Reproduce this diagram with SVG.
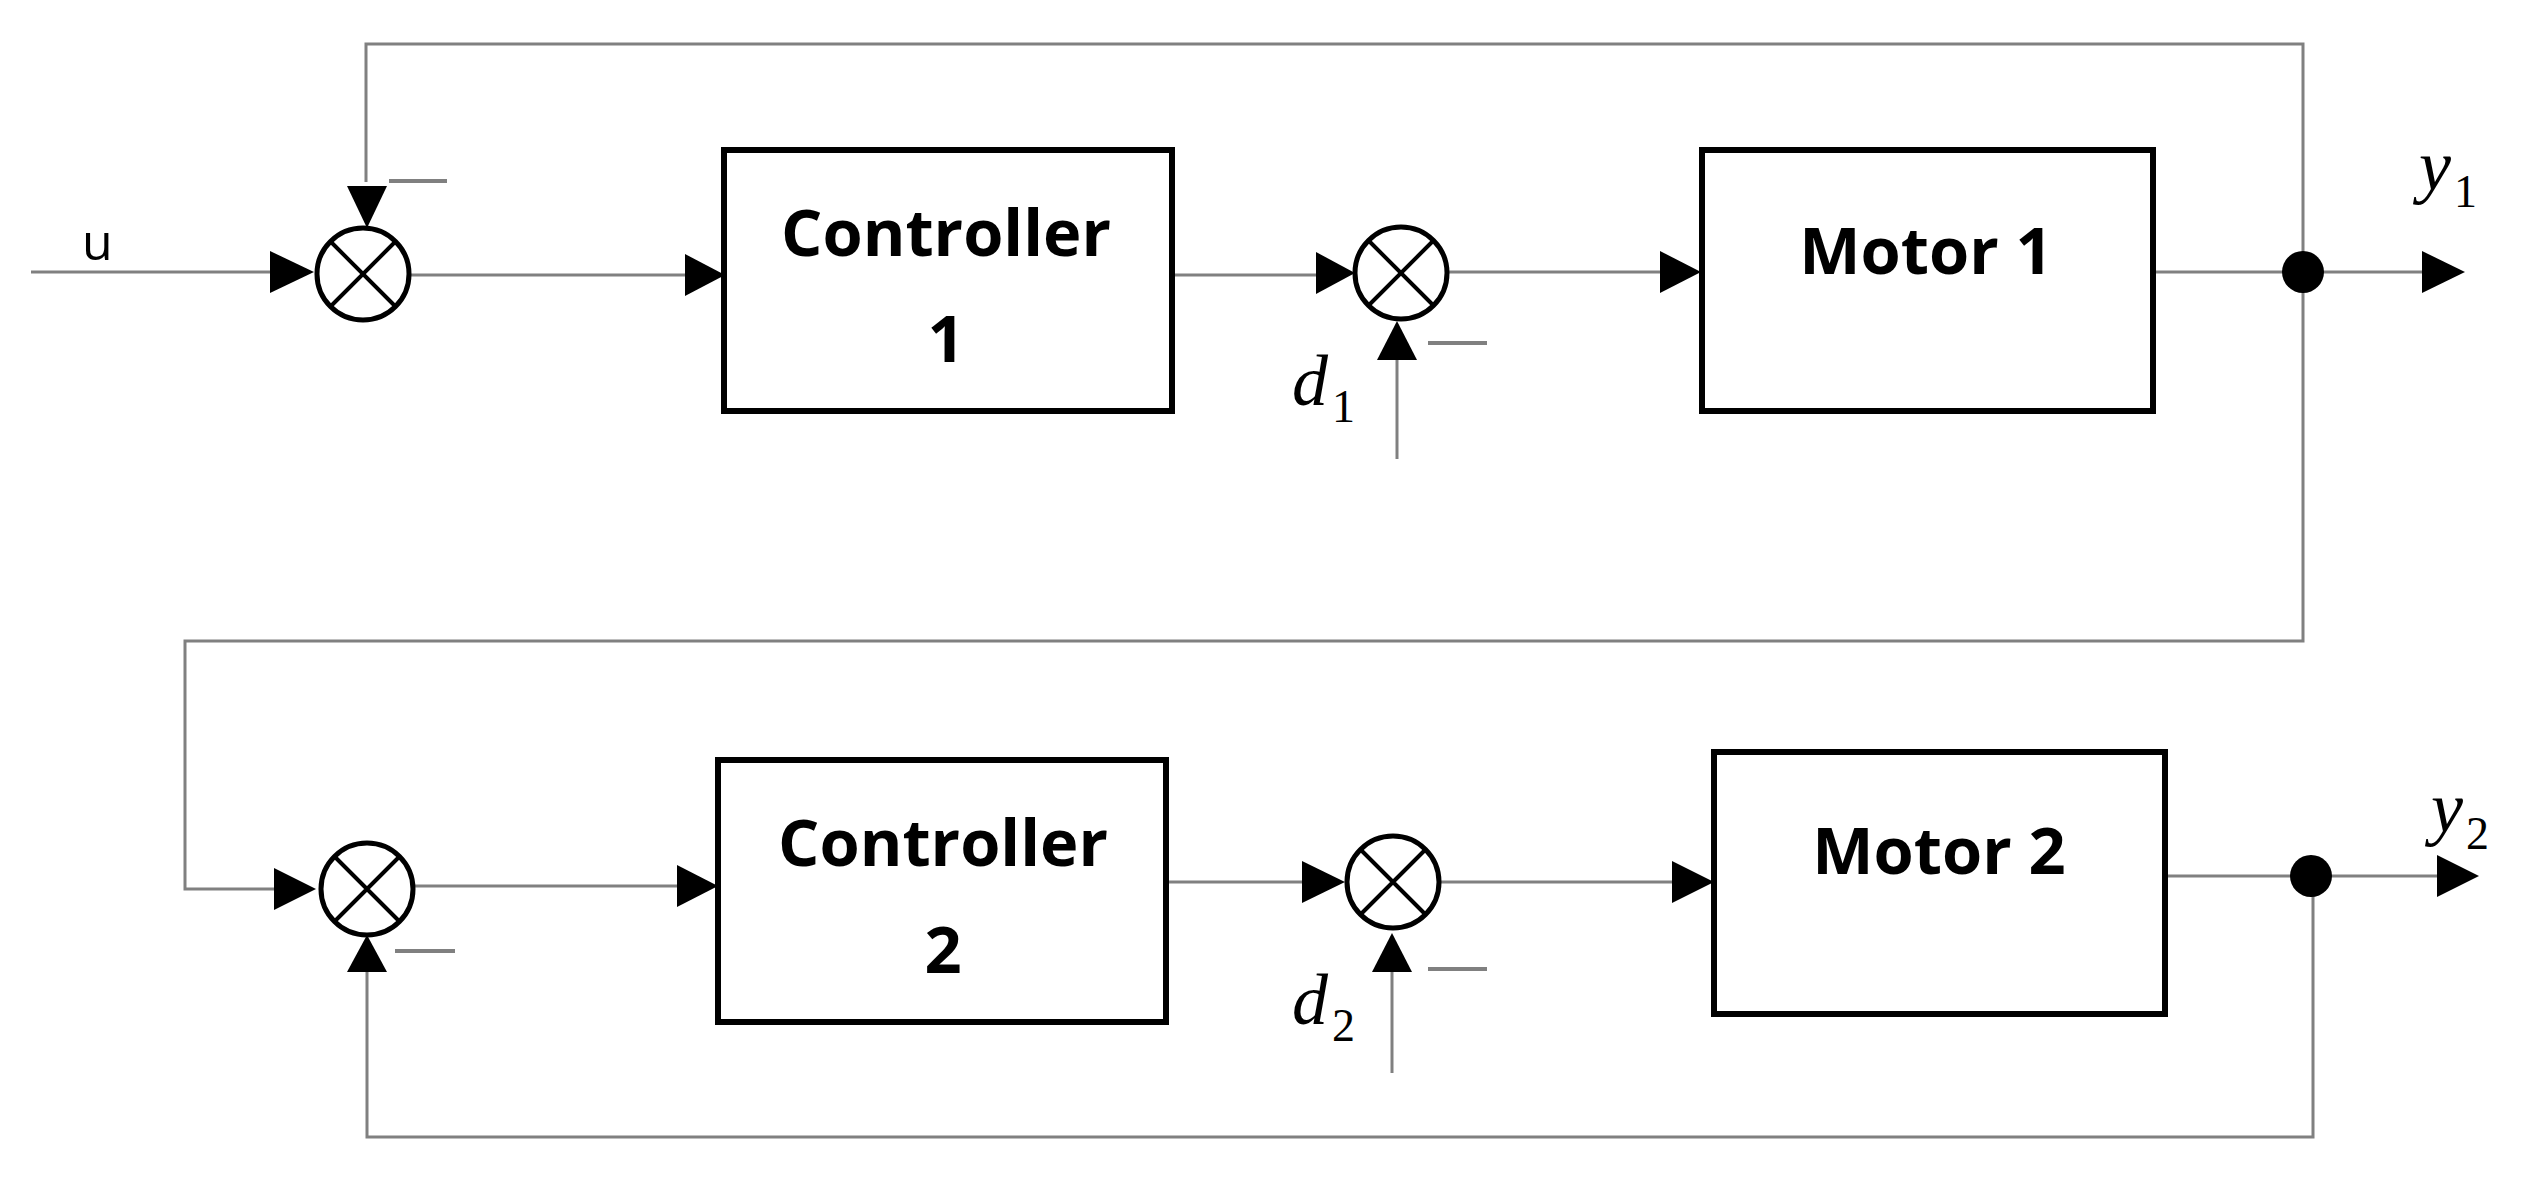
<svg xmlns="http://www.w3.org/2000/svg" width="2537" height="1184" viewBox="0 0 2537 1184">
<style>
.w{fill:none;stroke:#808080;stroke-width:3}
.b{fill:#fff;stroke:#000;stroke-width:6}
.s{fill:#fff;stroke:#000;stroke-width:5}
.x{stroke:#000;stroke-width:4}
.t{font-family:"Open Sans","DejaVu Sans",sans-serif;font-weight:bold;font-size:65px;text-anchor:middle;fill:#000}
.m{font-family:"Liberation Serif",serif;font-style:italic;font-size:72px;fill:#000}
.sub{font-family:"Liberation Serif",serif;font-size:46px;fill:#000}
.a{fill:#000}
</style>
<g id="connectors">
<path class="w" d="M366 182 V44 H2303 V641 H185 V889 H276"/>
<path class="w" d="M31 272 H274"/>
<path class="w" d="M410 275 H690"/>
<path class="w" d="M1172 275 H1320"/>
<path class="w" d="M1447 272 H1664"/>
<path class="w" d="M2153 272 H2425"/>
<path class="w" d="M1397 459 V360"/>
<path class="w" d="M414 886 H682"/>
<path class="w" d="M1166 882 H1306"/>
<path class="w" d="M1440 882 H1677"/>
<path class="w" d="M2165 876 H2440"/>
<path class="w" d="M2313 876 V1137 H367 V972"/>
<path class="w" d="M1392 1073 V972"/>
<polygon class="a" points="347,186 387,186 367,228"/>
<polygon class="a" points="270,251 270,293 314,272"/>
<polygon class="a" points="685,254 685,296 725,275"/>
<polygon class="a" points="1316,252 1316,294 1355,273"/>
<polygon class="a" points="1660,251 1660,293 1701,272"/>
<polygon class="a" points="2422,251 2422,293 2465,272"/>
<polygon class="a" points="1377,360 1417,360 1397,321"/>
<polygon class="a" points="274,868 274,910 316,889"/>
<polygon class="a" points="677,865 677,907 718,886"/>
<polygon class="a" points="1302,861 1302,903 1345,882"/>
<polygon class="a" points="1672,861 1672,903 1714,882"/>
<polygon class="a" points="2437,855 2437,897 2479,876"/>
<polygon class="a" points="347,972 387,972 367,935"/>
<polygon class="a" points="1372,972 1412,972 1392,933"/>
<circle class="a" cx="2303" cy="272" r="21"/>
<circle class="a" cx="2311" cy="876" r="21"/>
<path class="w" style="stroke-width:4" d="M389 181 H447 M1428 343 H1487 M395 951 H455 M1428 969 H1487"/>
</g>
<g id="sum1"><circle class="s" cx="363" cy="274" r="46"/><path class="x" d="M330 241 L396 307 M396 241 L330 307"/></g>
<g id="sum2"><circle class="s" cx="1401" cy="273" r="46"/><path class="x" d="M1368 240 L1434 306 M1434 240 L1368 306"/></g>
<g id="sum3"><circle class="s" cx="367" cy="889" r="46"/><path class="x" d="M334 856 L400 922 M400 856 L334 922"/></g>
<g id="sum4"><circle class="s" cx="1393" cy="882" r="46"/><path class="x" d="M1360 849 L1426 915 M1426 849 L1360 915"/></g>
<g id="controller1"><rect class="b" x="724" y="150" width="448" height="261"/><text class="t" x="946" y="256">Controller</text><text class="t" x="946" y="362">1</text></g>
<g id="motor1"><rect class="b" x="1702" y="150" width="451" height="261"/><text class="t" x="1926" y="274">Motor 1</text></g>
<g id="controller2"><rect class="b" x="718" y="760" width="448" height="262"/><text class="t" x="943" y="866">Controller</text><text class="t" x="943" y="973">2</text></g>
<g id="motor2"><rect class="b" x="1714" y="752" width="451" height="262"/><text class="t" x="1939" y="874">Motor 2</text></g>
<g id="labels">
<text x="82" y="260" font-family="Open Sans, sans-serif" font-size="50">u</text>
<text class="m" x="1292" y="405">d</text><text class="sub" x="1332" y="422">1</text>
<text class="m" x="1292" y="1024">d</text><text class="sub" x="1332" y="1041">2</text>
<text class="m" x="2419" y="190">y</text><text class="sub" x="2454" y="207">1</text>
<text class="m" x="2431" y="832">y</text><text class="sub" x="2466" y="849">2</text>
</g>
</svg>
